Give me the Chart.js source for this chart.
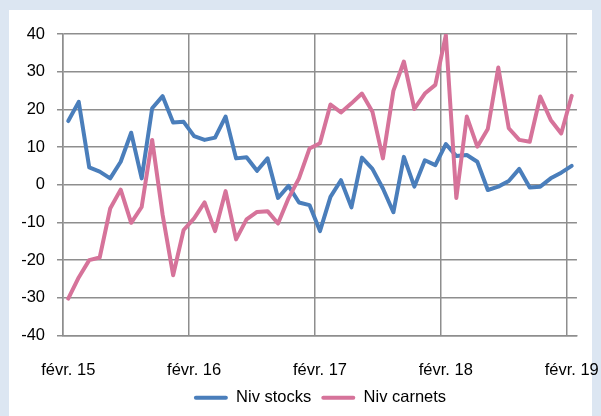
<!DOCTYPE html>
<html>
<head>
<meta charset="utf-8">
<script src="https://cdn.jsdelivr.net/npm/chart.js@4.4.1/dist/chart.umd.min.js"></script>
<style>
  html, body { margin: 0; padding: 0; background: #dce6f2; }
  #chart { display: block; }
</style>
</head>
<body>
<canvas id="chart" width="601" height="416"></canvas>
<script>
// Séries mensuelles, févr. 2015 -> févr. 2019
const moisCourts = ['janv.', 'févr.', 'mars', 'avr.', 'mai', 'juin', 'juil.', 'août', 'sept.', 'oct.', 'nov.', 'déc.'];
const annees = ['15', '16', '17', '18', '19'];

const nivStocks = [
  16.9, 22.0, 4.6, 3.5, 1.7, 6.1, 13.8, 1.7, 20.3, 23.5, 16.5, 16.7,
  12.9, 11.9, 12.5, 18.1, 7.0, 7.3, 3.7, 7.0, -3.5, -0.3, -4.7, -5.4,
  -12.3, -3.2, 1.2, -6.0, 7.2, 4.2, -1.0, -7.3, 7.4, -0.5, 6.5, 5.2,
  10.8, 7.6, 7.9, 6.1, -1.4, -0.5, 1.0, 4.2, -0.7, -0.5, 1.7, 3.2, 5.0
];

const nivCarnets = [
  -30.2, -24.6, -20.0, -19.3, -6.3, -1.3, -10.1, -5.9, 11.9, -8.0, -24.0, -12.0,
  -8.9, -4.7, -12.3, -1.7, -14.5, -9.2, -7.2, -7.0, -10.3, -3.6, 1.7, 9.6,
  11.0, 21.3, 19.2, 21.6, 24.2, 19.4, 7.0, 24.9, 32.7, 20.1, 24.2, 26.5,
  39.7, -3.5, 18.1, 10.1, 14.8, 31.1, 15.0, 11.9, 11.4, 23.4, 17.2, 13.6, 23.6
];

const yTicks = [-40, -30, -20, -10, 0, 10, 20, 30, 40];

// libellés mois par mois (févr. 15 ... févr. 19)
const labels = [];
for (let i = 0; i < nivStocks.length; i++) {
  const m = (1 + i) % 12;
  const a = annees[Math.floor((1 + i) / 12)];
  labels.push(moisCourts[m] + ' ' + a);
}

const gridColor = '#8e8e8e';

Chart.defaults.font.family = "'Liberation Sans', Arial, sans-serif";
Chart.defaults.font.size = 16.5;
Chart.defaults.color = '#000000';

// fond bleu clair + panneau blanc
const fondPanneau = {
  id: 'fondPanneau',
  beforeDraw(chart) {
    const ctx = chart.ctx;
    ctx.save();
    ctx.fillStyle = '#dce6f2';
    ctx.fillRect(0, 0, chart.width, chart.height);
    ctx.fillStyle = '#ffffff';
    ctx.fillRect(9, 10, 583, 406);
    ctx.restore();
  }
};

new Chart(document.getElementById('chart'), {
  type: 'line',
  data: {
    labels: labels,
    datasets: [
      {
        label: 'Niv stocks',
        data: nivStocks,
        borderColor: '#4a7ebb',
        backgroundColor: '#4a7ebb',
        borderWidth: 4,
        order: 2
      },
      {
        label: 'Niv carnets',
        data: nivCarnets,
        borderColor: '#d6739a',
        backgroundColor: '#d6739a',
        borderWidth: 4,
        order: 1
      }
    ]
  },
  options: {
    responsive: false,
    animation: false,
    devicePixelRatio: 1,
    layout: {
      padding: { top: 34, left: 0, right: 23.5, bottom: 0 }
    },
    elements: {
      point: { radius: 0, hoverRadius: 0 },
      line: { tension: 0, borderJoinStyle: 'round', borderCapStyle: 'round' }
    },
    scales: {
      x: {
        type: 'category',
        offset: true,
        grid: {
          offset: true,
          drawTicks: true,
          tickLength: 23,
          tickColor: 'rgba(0,0,0,0)',
          lineWidth: 1.5,
          color: ctx => (ctx.index % 12 === 0 ? gridColor : 'rgba(0,0,0,0)')
        },
        border: { display: true, color: gridColor, width: 1.5 },
        ticks: {
          autoSkip: false,
          maxRotation: 0,
          minRotation: 0,
          padding: 2,
          callback: function (v, i) {
            return i % 12 === 0 ? this.getLabelForValue(v) : '';
          }
        },
        afterFit: scale => { scale.height = 44; }
      },
      y: {
        min: -40,
        max: 40,
        afterBuildTicks: scale => {
          scale.ticks = yTicks.map(v => ({ value: v }));
        },
        grid: {
          color: gridColor,
          lineWidth: 1.5,
          tickLength: 6
        },
        border: { display: true, color: gridColor, width: 1.5 },
        ticks: { padding: 12 },
        afterFit: scale => { scale.width = 63; }
      }
    },
    plugins: {
      tooltip: { enabled: false },
      legend: {
        position: 'bottom',
        fullSize: false,
        labels: {
          boxWidth: 34,
          boxHeight: 4,
          padding: 10,
          useBorderRadius: true,
          borderRadius: 2,
          sort: (a, b) => a.datasetIndex - b.datasetIndex,
          generateLabels: chart => {
            const items = Chart.defaults.plugins.legend.labels.generateLabels(chart);
            return items.map(it => Object.assign(it, { lineWidth: 0, fillStyle: it.strokeStyle }));
          }
        }
      }
    }
  },
  plugins: [fondPanneau]
});
</script>
</body>
</html>
